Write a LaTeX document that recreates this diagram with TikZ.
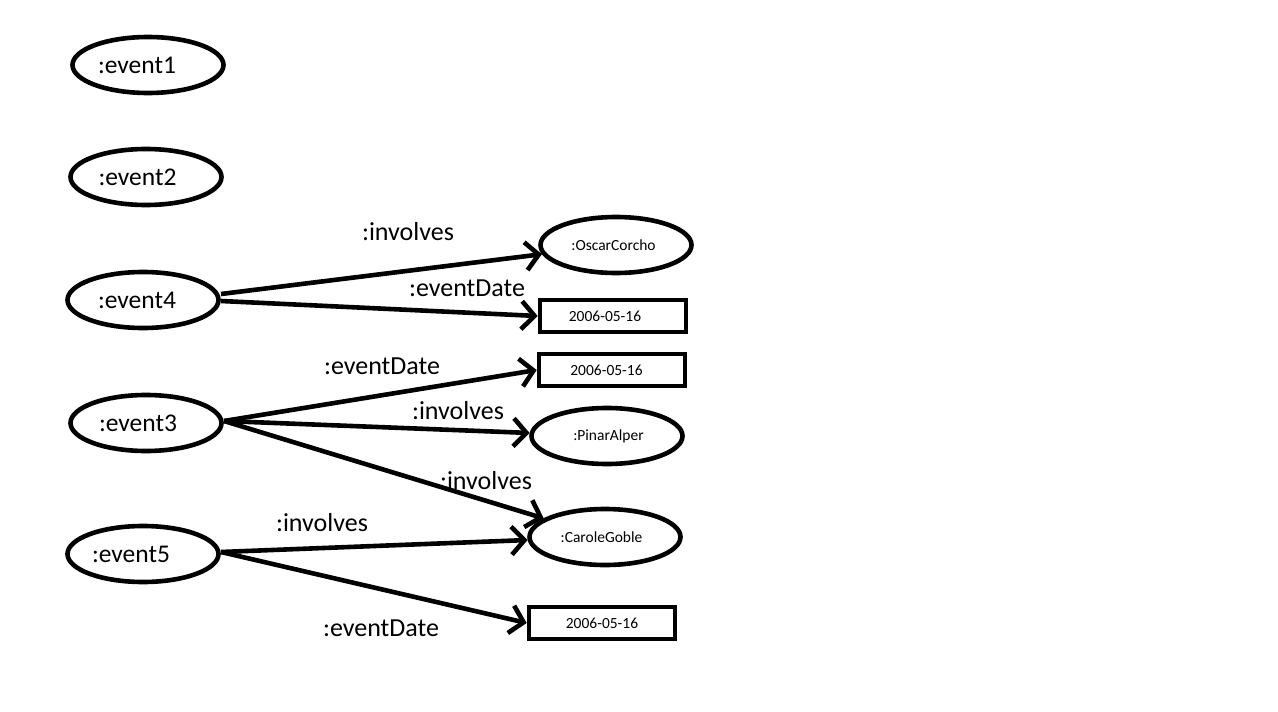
\documentclass[tikz,border=0pt]{standalone}
\usepackage{fontspec}
\setmainfont{Carlito}
\usetikzlibrary{shapes.geometric,arrows.meta}
\newcommand{\shft}[1]{\hspace*{#1}}
\tikzset{
  ev/.style={ellipse,draw,line width=4.6pt,minimum width=151pt,minimum height=56pt,inner sep=0pt,font=\fontsize{25.5}{28}\selectfont},
  res/.style={ellipse,draw,line width=4.6pt,minimum width=151pt,minimum height=56pt,inner sep=0pt,font=\fontsize{15.5}{18}\selectfont},
  lit/.style={rectangle,draw,line width=4.6pt,minimum width=146pt,minimum height=32pt,inner sep=0pt,font=\fontsize{15.5}{18}\selectfont},
  rel/.style={line width=4.6pt,-{Straight Barb[length=13pt,width=28pt]}},
  lbl/.style={font=\fontsize{26}{30}\selectfont,inner sep=0pt}
}
\begin{document}
\begin{tikzpicture}[x=1pt,y=-1pt]
\useasboundingbox (0,0) rectangle (1278,712);
\node[ev] (e1) at (148,65) {\shft{-22pt}:event1};
\node[ev] (e2) at (146,177) {\shft{-17pt}:event2};
\node[ev] (e4) at (143,300) {\shft{-12pt}:event4};
\node[ev] (e3) at (146,423) {\shft{-16pt}:event3};
\node[ev] (e5) at (143,554) {\shft{-24pt}:event5};
\node[res] (oc) at (616,245) {\shft{-5pt}:OscarCorcho};
\node[lit] (d1) at (613,316) {\shft{-16pt}2006-05-16};
\node[lit] (d2) at (612,370) {\shft{-11pt}2006-05-16};
\node[res] (pa) at (607,436) {\shft{3pt}:PinarAlper};
\node[res] (cg) at (605,537) {\shft{-7pt}:CaroleGoble};
\node[lit] (d3) at (602,623) {2006-05-16};
\coordinate (e4a) at (221,294);
\coordinate (e4b) at (221,301);
\coordinate (e3a) at (224,421);
\coordinate (e5a) at (221,552);
\draw[rel] (e4a) -- (oc);
\draw[rel] (e4b) -- (d1.west);
\draw[rel] (e3a) -- (d2.west);
\draw[rel] (e3a) -- (pa);
\draw[rel] (e3a) -- (cg);
\draw[rel] (e5a) -- (cg);
\draw[rel] (e5a) -- (d3.west);
\node[lbl] (l1) at (408,232) {:involves};
\node[lbl] (l2) at (467,288) {:eventDate};
\node[lbl] (l3) at (382,366) {:eventDate};
\node[lbl] (l4) at (458,411) {:involves};
\node[lbl] (l5) at (486,481) {:involves};
\node[lbl] (l6) at (322,523) {:involves};
\node[lbl] (l7) at (381,628) {:eventDate};
\end{tikzpicture}
\end{document}
